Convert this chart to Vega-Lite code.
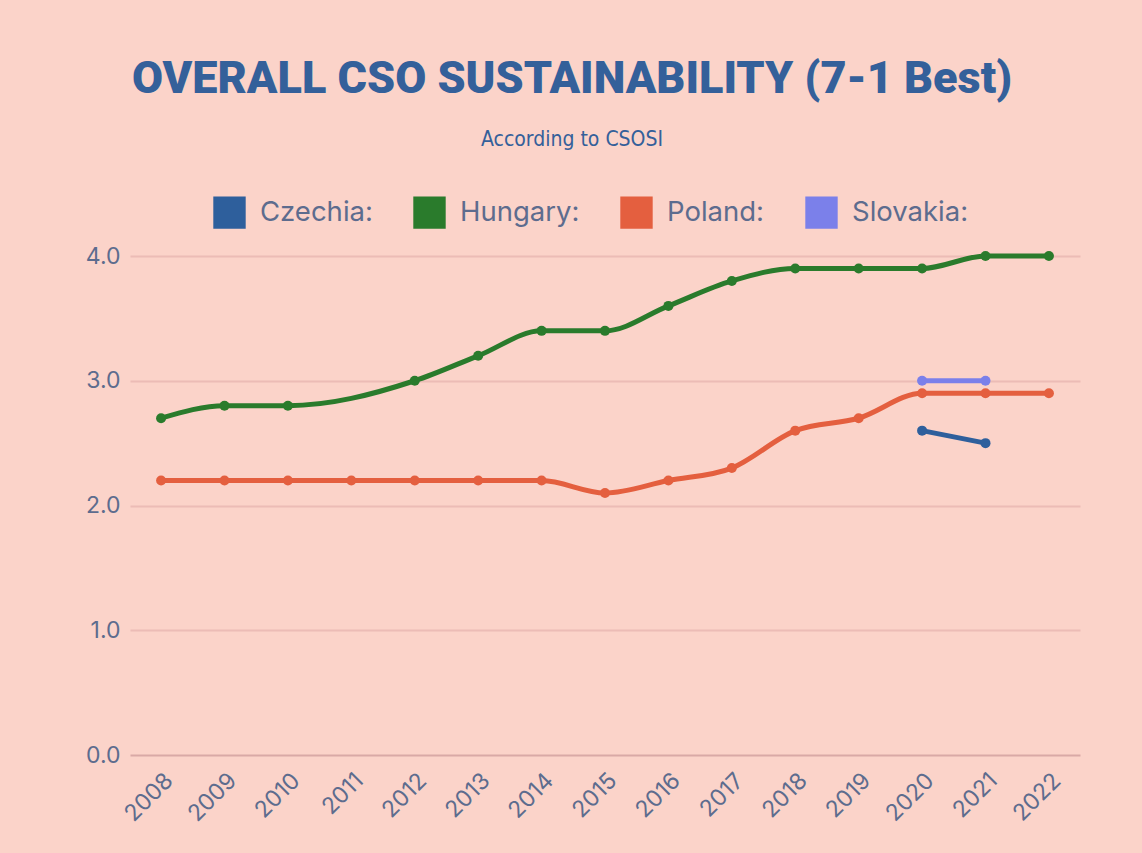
{
  "$schema": "https://vega.github.io/schema/vega-lite/v6.json",
  "autosize": {"type": "none"},
  "width": 950,
  "height": 499,
  "padding": {"left": 130, "top": 256, "right": 62, "bottom": 98},
  "background": "#fbd3c9",
  "title": {
    "text": "OVERALL CSO SUSTAINABILITY (7-1 Best)",
    "subtitle": "According to CSOSI",
    "anchor": "middle",
    "frame": "group",
    "dx": -33,
    "offset": 46,
    "font": "Roboto",
    "fontSize": 45,
    "fontWeight": 900,
    "color": "#34609a",
    "subtitleFont": "DejaVu Sans Condensed",
    "subtitleFontSize": 21,
    "subtitleFontWeight": 500,
    "subtitleColor": "#34609a",
    "subtitlePadding": 27
  },
  "data": {
    "values": [
      {"country": "Hungary", "year": "2008", "value": 2.7},
      {"country": "Hungary", "year": "2009", "value": 2.8},
      {"country": "Hungary", "year": "2010", "value": 2.8},
      {"country": "Hungary", "year": "2012", "value": 3.0},
      {"country": "Hungary", "year": "2013", "value": 3.2},
      {"country": "Hungary", "year": "2014", "value": 3.4},
      {"country": "Hungary", "year": "2015", "value": 3.4},
      {"country": "Hungary", "year": "2016", "value": 3.6},
      {"country": "Hungary", "year": "2017", "value": 3.8},
      {"country": "Hungary", "year": "2018", "value": 3.9},
      {"country": "Hungary", "year": "2019", "value": 3.9},
      {"country": "Hungary", "year": "2020", "value": 3.9},
      {"country": "Hungary", "year": "2021", "value": 4.0},
      {"country": "Hungary", "year": "2022", "value": 4.0},
      {"country": "Poland", "year": "2008", "value": 2.2},
      {"country": "Poland", "year": "2009", "value": 2.2},
      {"country": "Poland", "year": "2010", "value": 2.2},
      {"country": "Poland", "year": "2011", "value": 2.2},
      {"country": "Poland", "year": "2012", "value": 2.2},
      {"country": "Poland", "year": "2013", "value": 2.2},
      {"country": "Poland", "year": "2014", "value": 2.2},
      {"country": "Poland", "year": "2015", "value": 2.1},
      {"country": "Poland", "year": "2016", "value": 2.2},
      {"country": "Poland", "year": "2017", "value": 2.3},
      {"country": "Poland", "year": "2018", "value": 2.6},
      {"country": "Poland", "year": "2019", "value": 2.7},
      {"country": "Poland", "year": "2020", "value": 2.9},
      {"country": "Poland", "year": "2021", "value": 2.9},
      {"country": "Poland", "year": "2022", "value": 2.9},
      {"country": "Slovakia", "year": "2020", "value": 3.0},
      {"country": "Slovakia", "year": "2021", "value": 3.0},
      {"country": "Czechia", "year": "2020", "value": 2.6},
      {"country": "Czechia", "year": "2021", "value": 2.5}
    ]
  },
  "mark": {"type": "line", "interpolate": "monotone", "strokeWidth": 5, "point": {"filled": true, "size": 100, "opacity": 1}},
  "encoding": {
    "x": {
      "field": "year",
      "type": "ordinal",
      "scale": {"type": "point", "padding": 0.49},
      "axis": {
        "title": null,
        "labelAngle": -45,
        "labelFont": "Inter",
        "labelFontSize": 23,
        "labelColor": "#5d6c8e",
        "labelPadding": 14,
        "ticks": false,
        "domain": false,
        "grid": false
      }
    },
    "y": {
      "field": "value",
      "type": "quantitative",
      "scale": {"domain": [0, 4]},
      "axis": {
        "title": null,
        "values": [0, 1, 2, 3, 4],
        "format": ".1f",
        "labelFont": "Inter",
        "labelFontSize": 23,
        "labelColor": "#5d6c8e",
        "labelPadding": 10,
        "ticks": false,
        "domain": false,
        "grid": true,
        "gridColor": {"condition": {"test": "datum.value === 0", "value": "#d9a9a6"}, "value": "#ecbcb6"},
        "gridWidth": 2
      }
    },
    "color": {
      "field": "country",
      "type": "nominal",
      "scale": {
        "domain": ["Czechia", "Hungary", "Poland", "Slovakia"],
        "range": ["#2e5f9c", "#2a7b2c", "#e45f3f", "#7b80ea"]
      },
      "legend": {
        "title": null,
        "orient": "none",
        "legendX": 83,
        "legendY": -60,
        "direction": "horizontal",
        "columns": 4,
        "symbolType": "square",
        "symbolSize": 1050,
        "symbolStrokeWidth": 0,
        "symbolOpacity": 1,
        "labelExpr": "datum.label + ':'",
        "labelFont": "Inter",
        "labelFontSize": 27.5,
        "labelColor": "#5d6c8e",
        "labelOffset": 14,
        "columnPadding": 40
      }
    }
  },
  "config": {"view": {"stroke": null}}
}
